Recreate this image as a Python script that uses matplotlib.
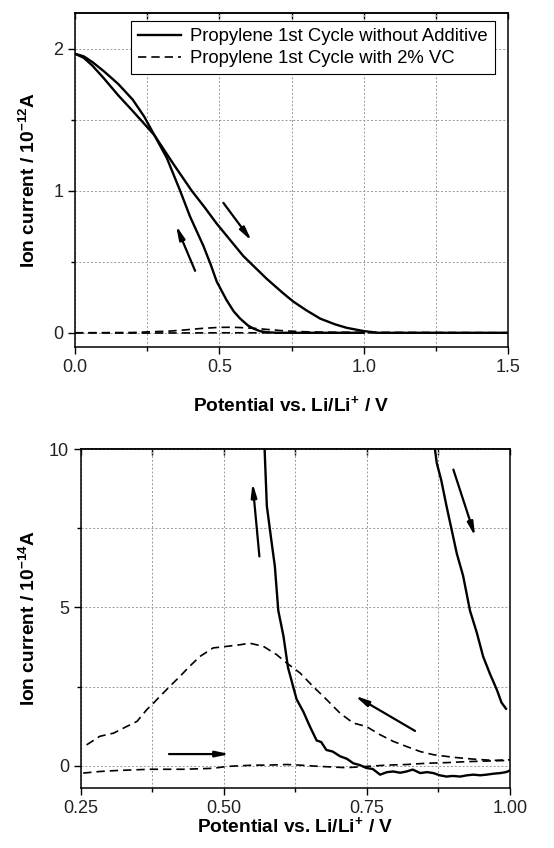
import numpy as np
import matplotlib
matplotlib.use("Agg")
import matplotlib.pyplot as plt
from matplotlib.ticker import MultipleLocator, FormatStrFormatter

plt.rcParams['font.family'] = ['Liberation Sans', 'DejaVu Sans']
plt.rcParams['mathtext.fontset'] = 'custom'
plt.rcParams['mathtext.rm'] = 'Liberation Sans'
plt.rcParams['mathtext.bf'] = 'Liberation Sans:bold'

# ------------------------------
# Top panel data (ion current in 1e-12 A)
# ------------------------------
top_fwd_x = [0.0, 0.03, 0.06, 0.1, 0.15, 0.2, 0.24, 0.275, 0.34, 0.404, 0.45, 0.49,
             0.583, 0.664, 0.72, 0.756, 0.8, 0.849, 0.9, 0.941, 1.0, 1.05, 1.5]
top_fwd_y = [1.963, 1.935, 1.88, 1.79, 1.67, 1.56, 1.47, 1.39, 1.19, 1.0, 0.88, 0.77,
             0.54, 0.38, 0.28, 0.22, 0.16, 0.10, 0.06, 0.035, 0.012, 0.0, 0.0]

top_rev_x = [0.0, 0.03, 0.06, 0.1, 0.15, 0.2, 0.24, 0.275, 0.318, 0.364, 0.398, 0.445,
             0.47, 0.491, 0.525, 0.55, 0.572, 0.6, 0.618, 0.64, 0.664, 0.7, 1.0]
top_rev_y = [1.963, 1.945, 1.905, 1.84, 1.75, 1.64, 1.52, 1.39, 1.23, 1.0, 0.82, 0.61,
             0.48, 0.36, 0.23, 0.15, 0.10, 0.05, 0.03, 0.012, 0.004, 0.0, 0.0]

top_vc_rev_x = [0.0, 0.2, 0.26, 0.33, 0.38, 0.44, 0.5, 0.545, 0.59, 0.63, 0.68,
                0.73, 0.8, 0.9, 1.0, 1.5]
top_vc_rev_y = [0.0, 0.002, 0.007, 0.012, 0.02, 0.031, 0.038, 0.039, 0.035, 0.03,
                0.021, 0.013, 0.007, 0.003, 0.002, 0.0]
top_vc_fwd_x = [0.0, 0.2, 0.3, 0.4, 0.5, 0.6, 0.7, 0.8, 0.9, 1.0, 1.5]
top_vc_fwd_y = [0.0, -0.002, -0.0015, -0.001, 0.0, 0.0, -0.0005, 0.0, 0.001, 0.0015, 0.0]

# ------------------------------
# Bottom panel data (ion current in 1e-14 A)
# ------------------------------
bot_rev_x = [0.570, 0.575, 0.583, 0.589, 0.595, 0.604, 0.612, 0.621, 0.627, 0.639,
             0.650, 0.662, 0.670, 0.679, 0.690, 0.703, 0.715, 0.726, 0.738, 0.749,
             0.760, 0.773, 0.785, 0.796, 0.808, 0.819, 0.830, 0.843, 0.855, 0.866,
             0.877, 0.889, 0.900, 0.913, 0.925, 0.936, 0.948, 0.959, 0.971, 0.983,
             0.993, 1.0]
bot_rev_y = [10.5, 8.2, 7.1, 6.3, 4.9, 4.1, 3.1, 2.5, 2.1, 1.7,
             1.25, 0.8, 0.75, 0.5, 0.45, 0.3, 0.22, 0.08, 0.02, -0.07,
             -0.1, -0.28, -0.2, -0.18, -0.22, -0.18, -0.12, -0.23, -0.2, -0.23,
             -0.3, -0.34, -0.32, -0.34, -0.3, -0.28, -0.3, -0.28, -0.25, -0.23,
             -0.2, -0.15]

bot_fwd_x = [0.865, 0.872, 0.880, 0.889, 0.898, 0.907, 0.918, 0.930, 0.942, 0.953,
             0.965, 0.977, 0.985, 0.993]
bot_fwd_y = [10.5, 9.56, 9.0, 8.2, 7.45, 6.7, 6.0, 4.9, 4.2, 3.45,
             2.9, 2.4, 2.0, 1.8]

bot_vc_rev_x = [0.26, 0.283, 0.307, 0.33, 0.348, 0.365, 0.377, 0.388, 0.405, 0.423,
                0.44, 0.458, 0.481, 0.505, 0.528, 0.545, 0.569, 0.592, 0.61, 0.633,
                0.656, 0.68, 0.703, 0.726, 0.749, 0.773, 0.796, 0.819, 0.843, 0.866,
                0.9, 0.936, 0.971, 1.0]
bot_vc_rev_y = [0.66, 0.93, 1.03, 1.24, 1.4, 1.77, 1.98, 2.19, 2.5, 2.82,
                3.14, 3.45, 3.72, 3.77, 3.82, 3.87, 3.77, 3.51, 3.24, 2.93,
                2.5, 2.08, 1.66, 1.35, 1.24, 0.98, 0.77, 0.61, 0.45, 0.35,
                0.27, 0.21, 0.17, 0.19]

bot_vc_fwd_x = [0.254, 0.283, 0.312, 0.341, 0.37, 0.4, 0.429, 0.481, 0.505, 0.528,
                0.551, 0.575, 0.61, 0.633, 0.668, 0.714, 0.749, 0.784, 0.819, 0.854,
                0.889, 0.924, 0.959, 1.0]
bot_vc_fwd_y = [-0.23, -0.18, -0.15, -0.13, -0.11, -0.11, -0.11, -0.08, -0.02, 0.0,
                0.02, 0.02, 0.04, 0.02, -0.02, -0.06, -0.02, 0.02, 0.04, 0.08,
                0.1, 0.13, 0.15, 0.17]

LABEL_SOLID = "Propylene 1st Cycle without Additive"
LABEL_DASH = "Propylene 1st Cycle with 2% VC"


def style_axes(ax, xmaj, xmin, ymaj, ymin):
    ax.xaxis.set_major_locator(MultipleLocator(xmaj))
    ax.xaxis.set_minor_locator(MultipleLocator(xmin))
    ax.yaxis.set_major_locator(MultipleLocator(ymaj))
    ax.yaxis.set_minor_locator(MultipleLocator(ymin))
    ax.grid(True, which='both', color='#999999', linestyle=(0, (2, 2)), linewidth=0.7)
    ax.tick_params(which='both', direction='out', top=False, right=False,
                   labelsize=13, width=1.0, labelcolor='#222222')
    ax.tick_params(which='major', length=5)
    ax.tick_params(which='minor', length=3)
    for s in ax.spines.values():
        s.set_linewidth(1.1)
    sec = ax.secondary_xaxis('top')
    sec.xaxis.set_major_locator(MultipleLocator(xmin))
    sec.tick_params(direction='in', length=4, width=1.0, labeltop=False)
    sec.spines['top'].set_linewidth(1.1)


def arrow(ax, start, end):
    ax.annotate("", xy=end, xytext=start,
                arrowprops=dict(arrowstyle='-|>,head_length=0.8,head_width=0.17',
                                color='k', lw=1.6, shrinkA=0, shrinkB=0))


fig = plt.figure(figsize=(5.54, 8.48), dpi=100)
ax1 = fig.add_axes([0.1354, 0.5908, 0.7816, 0.3939])
ax2 = fig.add_axes([0.146, 0.0708, 0.7746, 0.3997])

# top panel
ax1.plot(top_fwd_x, top_fwd_y, color='k', lw=1.7, label=LABEL_SOLID)
ax1.plot(top_rev_x, top_rev_y, color='k', lw=1.7)
ax1.plot(top_vc_rev_x, top_vc_rev_y, color='k', lw=1.2, ls=(0, (5, 3)), label=LABEL_DASH)
ax1.plot(top_vc_fwd_x, top_vc_fwd_y, color='k', lw=1.2, ls=(0, (5, 3)))
ax1.set_xlim(0, 1.5)
ax1.set_ylim(-0.1, 2.25)
style_axes(ax1, 0.5, 0.25, 1, 0.5)
ax1.xaxis.set_major_formatter(FormatStrFormatter('%.1f'))
ax1.set_xlabel("Potential vs. Li/Li$^{\\mathbf{+}}$ / V", fontsize=13.8, fontweight='bold', labelpad=14)
ax1.set_ylabel("Ion current / 10$^{\\mathbf{-12}}$A", fontsize=13.8, fontweight='bold', labelpad=10)
leg = ax1.legend(loc='upper right', bbox_to_anchor=(0.97, 0.976), borderaxespad=0,
                 fontsize=13.3, fancybox=False, edgecolor='k', framealpha=1,
                 handlelength=2.3, handletextpad=0.5, borderpad=0.4, labelspacing=0.25)
leg.get_frame().set_linewidth(0.8)
arrow(ax1, (0.514, 0.914), (0.612, 0.646))
arrow(ax1, (0.416, 0.436), (0.35, 0.755))

# bottom panel
ax2.plot(bot_rev_x, bot_rev_y, color='k', lw=1.7)
ax2.plot(bot_fwd_x, bot_fwd_y, color='k', lw=1.7)
ax2.plot(bot_vc_rev_x, bot_vc_rev_y, color='k', lw=1.2, ls=(0, (5, 3)))
ax2.plot(bot_vc_fwd_x, bot_vc_fwd_y, color='k', lw=1.2, ls=(0, (5, 3)))
ax2.set_xlim(0.25, 1.0)
ax2.set_ylim(-0.7, 10)
style_axes(ax2, 0.25, 0.125, 5, 2.5)
ax2.xaxis.set_major_formatter(FormatStrFormatter('%.2f'))
ax2.set_xlabel("Potential vs. Li/Li$^{\\mathbf{+}}$ / V", fontsize=13.8, fontweight='bold', labelpad=0)
ax2.set_ylabel("Ion current / 10$^{\\mathbf{-14}}$A", fontsize=13.8, fontweight='bold', labelpad=7)
arrow(ax2, (0.562, 6.61), (0.55, 8.93))
arrow(ax2, (0.901, 9.35), (0.939, 7.24))
arrow(ax2, (0.834, 1.1), (0.729, 2.21))
arrow(ax2, (0.404, 0.37), (0.51, 0.37))

fig.savefig("out.png", dpi=100)
